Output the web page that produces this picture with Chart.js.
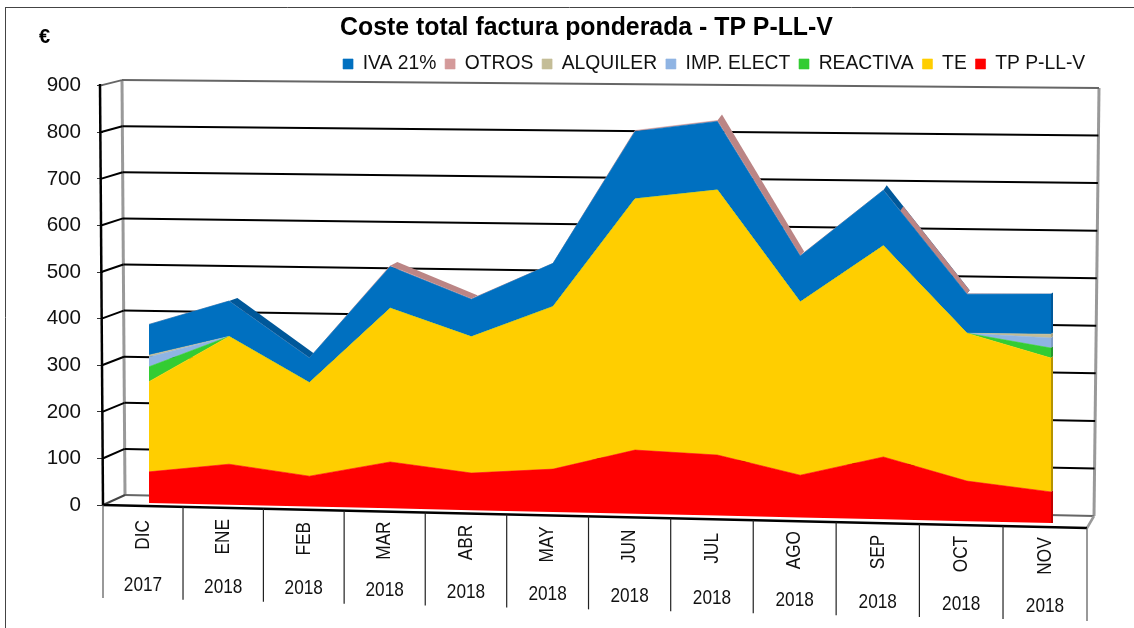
<!DOCTYPE html>
<html lang="es"><head><meta charset="utf-8"><title>Coste total factura ponderada</title>
<style>html,body{margin:0;padding:0;background:#fff}canvas{display:block}</style>
<script src="https://cdn.jsdelivr.net/npm/chart.js@4/dist/chart.umd.min.js"></script>
</head><body><canvas id="c" width="1134" height="628"></canvas>
<script>
const months = ['DIC','ENE','FEB','MAR','ABR','MAY','JUN','JUL','AGO','SEP','OCT','NOV'];
const years = ['2017','2018','2018','2018','2018','2018','2018','2018','2018','2018','2018','2018'];
const yTicks = [0,100,200,300,400,500,600,700,800,900];
const baseLine = [0,0,0,0,0,0,0,0,0,0,0,0];
const tpPllV  = [67,87,65,99,79,91,135,128,89,131,84,65];
const te      = [194,274,200,328,290,345,532,560,365,444,310,280];
const reactiva= [32,0,0,0,0,0,0,0,0,0,0,21];
const impElect= [21,0,0,0,0,0,0,0,0,0,0,21];
const alquiler= [4,0,0,0,0,0,0,0,0,0,0,8];
const iva     = [66,76,53,89,80,92,143,145,97,117,82,84];
const otros   = [0,0,0,2,1,0,2,2,1,0,1,0];
const legendOrder = ['IVA 21%','OTROS','ALQUILER','IMP. ELECT','REACTIVA','TE','TP P-LL-V'];
const C = {tp:'#ff0000',te:'#ffce00',re:'#33cc33',imp:'#8fb4e3',alq:'#c4bd97',iva:'#0070c0',ot:'#d49a9a'};
const FONT = '"Liberation Sans", Arial, sans-serif';

// Oblique view of the 3-D Excel plot: maps scale values to the tilted data plane.
const tOf = x => (x-149)/902;
const planeBase = x => 503 + 20*tOf(x);
const planeUnit = x => .465 + .013*tOf(x);
const floorX = i => 103 + 82*i - .18*i*(12-i);
const floorY = x => 505 + (x-103)*23/984;
const depth = (x,v) => [9-7*tOf(x), -.0072*v];

function line(ctx,x1,y1,x2,y2,color,w){ctx.strokeStyle=color;ctx.lineWidth=w;ctx.beginPath();ctx.moveTo(x1,y1);ctx.lineTo(x2,y2);ctx.stroke();}
function quad(ctx,a,b,c,d,color){ctx.fillStyle=color;ctx.beginPath();ctx.moveTo(...a);ctx.lineTo(...b);ctx.lineTo(...c);ctx.lineTo(...d);ctx.closePath();ctx.fill();}

const view3d = {
  id:'view3d',
  afterLayout(chart){
    const t=chart.titleBlock; t.left+=43; t.right+=43;
    const l=chart.legend; l.left+=7; l.right+=7; l.top-=2; l.bottom-=2;
  },
  afterDatasetsUpdate(chart){
    const ys=chart.scales.y;
    chart.data.datasets.forEach((d,k)=>{
      const meta=chart.getDatasetMeta(k);
      meta.data.forEach((p,i)=>{
        const v=ys.getValueForPixel(p.y);
        const x=p.x+5-.2*i*(11-i);
        p.$v=v; p.x=x; p.y=planeBase(x)-v*planeUnit(x);
      });
    });
  },
  beforeDatasetsDraw(chart){
    const ctx=chart.ctx; ctx.save();
    // walls
    line(ctx,122,80,125,495,'#999',3);
    line(ctx,1099,88,1094,516,'#999',3);
    line(ctx,125,495,1094,516,'#666',2);
    line(ctx,103,505,125,495,'#444',2);
    line(ctx,1087,528,1094,516,'#999',2.5);
    yTicks.forEach(v=>{
      if(v===0) return;
      const col=v===900?'#666':'#000', w=2;
      const fy=chart.scales.y.getPixelForValue(v);
      const fx=100+3*(900-v)/900;
      const bx=122+3*(900-v)/900, by=495-v*.461;
      const rx=1094+5*v/900, ry=516-v*.4756;
      line(ctx,fx,fy,bx,by,col,w);
      line(ctx,bx,by,rx,ry,col,w);
    });
    line(ctx,100,84,103,505,'#000',2.5);
    // side faces of the top series
    const n=chart.data.datasets.length;
    const top=chart.getDatasetMeta(n-1).data;
    for(let i=0;i<top.length-1;i++){
      const a=top[i], b=top[i+1];
      if(b.$v>=a.$v) continue;
      const da=depth(a.x,a.$v), db=depth(b.x,b.$v);
      const A=[a.x,a.y],B=[b.x,b.y],A2=[a.x+da[0],a.y+da[1]],B2=[b.x+db[0],b.y+db[1]];
      if(otros[i]>0||otros[i+1]>0){
        if(otros[i]===0){
          quad(ctx,A,B,B2,A2,'#00589a');
          const f=.2, m=[a.x+(b.x-a.x)*f,a.y+(b.y-a.y)*f], m2=[A2[0]+(B2[0]-A2[0])*f,A2[1]+(B2[1]-A2[1])*f];
          quad(ctx,m,B,B2,m2,'#bb8585');
        } else quad(ctx,A,B,B2,A2,'#bb8585');
      } else quad(ctx,A,B,B2,A2,'#00589a');
    }
    // right-hand end face
    const dark={1:'#c00000',2:'#b59300',3:'#24962a',4:'#7f9cc5',5:'#a8a180',6:'#00589a',7:'#00589a'};
    for(let k=n-1;k>=1;k--){
      const a=chart.getDatasetMeta(k).data[11], b=chart.getDatasetMeta(k-1).data[11];
      const off=k===1?0:-1.5;
      quad(ctx,[a.x-.5,a.y],[a.x+2,a.y-1.5],[b.x+2,b.y+off],[b.x-.5,b.y],dark[k]);
    }
    ctx.restore();
  },
  afterDatasetsDraw(chart){
    const ctx=chart.ctx; ctx.save();
    // floor and category cells
    line(ctx,103,505,1087,528,'#000',2.5);
    for(let i=0;i<=12;i++){
      const x=floorX(i), y=floorY(x);
      line(ctx,x,y,x,y+93,i===0||i===12?'#555':'#222',1.2);
    }
    ctx.fillStyle='#111'; ctx.textAlign='center'; ctx.textBaseline='middle';
    ctx.font='21px '+FONT;
    months.forEach((m,i)=>{
      const cx=(floorX(i)+floorX(i+1))/2, fy=floorY(cx);
      ctx.save(); ctx.translate(cx,fy+29); ctx.rotate(-Math.PI/2); ctx.scale(.82,1); ctx.fillText(m,0,0); ctx.restore();
      ctx.save(); ctx.translate(cx,fy+79); ctx.scale(.82,1); ctx.fillText(years[i],0,0); ctx.restore();
    });
    // frame and unit
    line(ctx,5.5,7,5.5,628,'#444',1);
    line(ctx,5,7.5,1134,7.5,'#444',1);
    ctx.fillStyle='#000'; ctx.font='bold 20px '+FONT; ctx.textAlign='left';
    ctx.fillText('€',39,37);
    ctx.restore();
  }
};

const mk=(label,data,color,fill)=>({label,data,backgroundColor:color,borderColor:color,borderWidth:fill?.6:0,pointRadius:0,tension:0,fill,clip:false});

new Chart(document.getElementById('c'),{
  type:'line',
  data:{labels:months,datasets:[
    mk('base',baseLine,'rgba(0,0,0,0)',false),
    mk('TP P-LL-V',tpPllV,C.tp,'-1'),
    mk('TE',te,C.te,'-1'),
    mk('REACTIVA',reactiva,C.re,'-1'),
    mk('IMP. ELECT',impElect,C.imp,'-1'),
    mk('ALQUILER',alquiler,C.alq,'-1'),
    mk('IVA 21%',iva,C.iva,'-1'),
    mk('OTROS',otros,C.ot,'-1')
  ]},
  options:{
    responsive:false,animation:false,events:[],
    layout:{padding:{left:0,right:47,top:6,bottom:99.6}},
    scales:{
      x:{display:false,offset:true},
      y:{stacked:true,min:-50,max:900,
        afterFit:s=>{s.width=103;},
        afterBuildTicks:s=>{s.ticks=yTicks.map(value=>({value}));},
        border:{display:false},
        grid:{drawOnChartArea:false,drawTicks:true,tickLength:6,tickColor:'#333',lineWidth:1},
        ticks:{padding:16,color:'#111',font:{family:FONT,size:20.6}}
      }
    },
    plugins:{
      tooltip:{enabled:false},
      title:{display:true,text:'Coste total factura ponderada - TP P-LL-V',color:'#000',
        font:{family:FONT,size:24.85,weight:'bold'},padding:{top:7,bottom:4.7}},
      legend:{display:true,position:'top',align:'end',
        labels:{boxWidth:10,boxHeight:10,padding:8.8,color:'#111',font:{family:FONT,size:19.3},
          filter:it=>it.text!=='base',
          sort:(a,b)=>legendOrder.indexOf(a.text)-legendOrder.indexOf(b.text)}}
    }
  },
  plugins:[view3d]
});
</script></body></html>
